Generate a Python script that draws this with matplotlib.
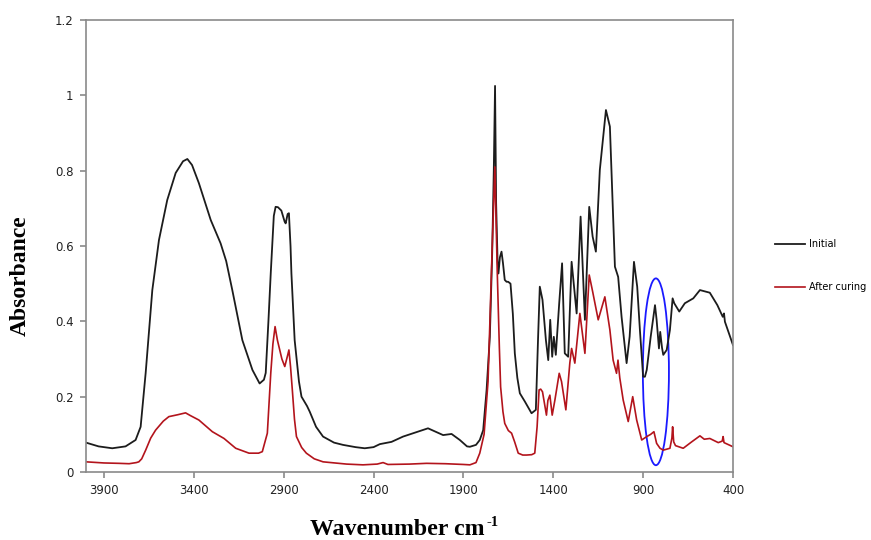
import numpy as np
import matplotlib
matplotlib.use("Agg")
import matplotlib.pyplot as plt
from matplotlib.patches import Ellipse
from matplotlib.ticker import FuncFormatter

# FTIR spectra, absorbance vs wavenumber (cm-1)
wn_initial = [4000, 3930, 3854, 3780, 3724, 3696, 3668, 3631, 3594, 3548, 3501, 3460,
              3436, 3410, 3372, 3306, 3251, 3220, 3186, 3130, 3074, 3034, 3010, 3000,
              2985, 2972, 2955, 2945, 2932, 2913, 2895, 2889, 2878, 2871, 2862, 2857,
              2839, 2815, 2801, 2770, 2755, 2720, 2681, 2620, 2570, 2500, 2449, 2400,
              2365, 2300, 2236, 2160, 2097, 2050, 2013, 1966, 1920, 1880, 1864, 1830,
              1809, 1790, 1771, 1753, 1740, 1731, 1724, 1718, 1710, 1705, 1697, 1688,
              1680, 1670, 1660, 1651, 1638, 1625, 1614, 1600, 1586, 1558, 1521, 1497,
              1485, 1475, 1460, 1441, 1428, 1417, 1406, 1397, 1386, 1367, 1351, 1336,
              1317, 1298, 1270, 1248, 1224, 1200, 1181, 1163, 1141, 1107, 1085, 1057,
              1039, 1020, 992, 975, 951, 933, 918, 900, 890, 880, 858, 834, 825, 812,
              805, 795, 788, 769, 751, 736, 727, 699, 668, 621, 584, 529, 487, 457,
              450, 445, 400]
abs_initial = [0.078, 0.068, 0.063, 0.068, 0.085, 0.12, 0.263, 0.483, 0.616, 0.722, 0.794, 0.825,
               0.831, 0.815, 0.767, 0.669, 0.607, 0.56, 0.483, 0.350, 0.271, 0.235, 0.245, 0.263,
               0.40, 0.528, 0.68, 0.704, 0.703, 0.694, 0.665, 0.660, 0.685, 0.687, 0.60, 0.527,
               0.350, 0.24, 0.200, 0.175, 0.160, 0.12, 0.094, 0.078, 0.072, 0.066, 0.063, 0.066,
               0.074, 0.080, 0.094, 0.106, 0.116, 0.106, 0.098, 0.101, 0.085, 0.068, 0.067, 0.072,
               0.085, 0.111, 0.218, 0.359, 0.58, 0.80, 1.025, 0.714, 0.56, 0.527, 0.57, 0.585,
               0.555, 0.51, 0.505, 0.505, 0.50, 0.42, 0.315, 0.25, 0.209, 0.187, 0.156, 0.165,
               0.35, 0.492, 0.457, 0.350, 0.297, 0.404, 0.306, 0.359, 0.311, 0.448, 0.554, 0.315,
               0.306, 0.558, 0.421, 0.678, 0.404, 0.704, 0.625, 0.585, 0.802, 0.961, 0.917, 0.545,
               0.518, 0.412, 0.289, 0.36, 0.558, 0.492, 0.377, 0.253, 0.253, 0.271, 0.359, 0.443,
               0.404, 0.328, 0.372, 0.33, 0.311, 0.324, 0.377, 0.461, 0.448, 0.426, 0.448, 0.461,
               0.483, 0.476, 0.443, 0.412, 0.421, 0.399, 0.337]

wn_cured = [4000, 3900, 3817, 3760, 3720, 3706, 3690, 3668, 3640, 3613, 3570, 3539,
            3490, 3446, 3420, 3372, 3297, 3232, 3167, 3093, 3040, 3019, 2991, 2972,
            2960, 2948, 2935, 2910, 2894, 2878, 2871, 2862, 2852, 2840, 2829, 2800,
            2774, 2730, 2681, 2550, 2459, 2380, 2347, 2320, 2200, 2105, 2000, 1900,
            1864, 1830, 1809, 1785, 1763, 1738, 1725, 1712, 1700, 1693, 1680, 1670,
            1650, 1632, 1615, 1595, 1570, 1549, 1520, 1503, 1490, 1479, 1470, 1460,
            1438, 1430, 1419, 1406, 1391, 1367, 1354, 1330, 1308, 1298, 1280, 1252,
            1224, 1200, 1181, 1150, 1113, 1085, 1067, 1048, 1040, 1030, 1011, 983,
            958, 936, 908, 880, 858, 840, 825, 806, 788, 751, 740, 736, 730, 720,
            677, 630, 584, 560, 529, 482, 460, 455, 450, 400]
abs_cured = [0.027, 0.024, 0.023, 0.022, 0.025, 0.027, 0.035, 0.058, 0.09, 0.111, 0.135, 0.147,
             0.152, 0.157, 0.150, 0.138, 0.107, 0.089, 0.063, 0.050, 0.050, 0.054, 0.103, 0.262,
             0.34, 0.386, 0.35, 0.30, 0.280, 0.31, 0.324, 0.28, 0.218, 0.14, 0.094, 0.065,
             0.050, 0.035, 0.027, 0.021, 0.019, 0.021, 0.025, 0.020, 0.021, 0.023, 0.022, 0.020,
             0.019, 0.025, 0.050, 0.10, 0.24, 0.625, 0.81, 0.536, 0.33, 0.226, 0.16, 0.129,
             0.11, 0.103, 0.08, 0.050, 0.045, 0.045, 0.046, 0.050, 0.12, 0.218, 0.22, 0.213,
             0.151, 0.19, 0.204, 0.151, 0.191, 0.262, 0.240, 0.165, 0.289, 0.328, 0.289, 0.421,
             0.315, 0.523, 0.479, 0.404, 0.465, 0.377, 0.297, 0.262, 0.297, 0.25, 0.191, 0.134,
             0.200, 0.138, 0.085, 0.094, 0.10, 0.107, 0.076, 0.063, 0.058, 0.063, 0.09, 0.12,
             0.08, 0.07, 0.063, 0.080, 0.096, 0.087, 0.089, 0.078, 0.082, 0.094, 0.078, 0.067]

x_ticks = [3900, 3400, 2900, 2400, 1900, 1400, 900, 400]
y_ticks = [0, 0.2, 0.4, 0.6, 0.8, 1.0, 1.2]

# highlighted region around 830 cm-1
ring_center = (829, 0.266)
ring_width = 145
ring_height = 0.496

fig = plt.figure(figsize=(8.71, 5.4), dpi=100)
ax = fig.add_axes([86 / 871, 68 / 540, 647 / 871, 452 / 540])

ax.plot(wn_initial, abs_initial, color='#1c1c1c', lw=1.3, label='Initial')
ax.plot(wn_cured, abs_cured, color='#b3141c', lw=1.2, label='After curing')

ax.add_patch(Ellipse(ring_center, ring_width, ring_height, fill=False,
                     edgecolor='#1a1aff', lw=1.3))

ax.set_xlim(4000, 400)
ax.set_ylim(0, 1.2)
ax.set_xticks(x_ticks)
ax.set_yticks(y_ticks)
ax.yaxis.set_major_formatter(FuncFormatter(lambda v, p: '%g' % v))

gray = '#8a8a8a'
for s in ax.spines.values():
    s.set_color(gray)
    s.set_linewidth(1.2)
ax.tick_params(axis='both', colors=gray, length=4, width=1.2, labelsize=8.5,
               labelcolor='#222222')
ax.tick_params(axis='x', pad=5)
ax.tick_params(axis='y', pad=5)

serif = dict(family='Liberation Serif', weight='bold')
fig.text(20 / 871, 1 - 275.5 / 540, 'Absorbance', rotation=90, ha='center', va='center',
         fontsize=17, **serif)
# axis title with a small raised "-1"
fig.text(310 / 871, 1 - 535 / 540, 'Wavenumber cm', ha='left', va='baseline',
         fontsize=17.2, **serif)
fig.text(486 / 871, 1 - 526 / 540, '-1', ha='left', va='baseline',
         fontsize=10.5, **serif)

fig.legend(loc='center left', bbox_to_anchor=(775 / 871, 1 - 265.5 / 540),
           frameon=False, fontsize=7, handlelength=3.1, handletextpad=0.4,
           labelspacing=3.4, borderpad=0, borderaxespad=0)

fig.savefig('out.png', dpi=100, facecolor='white')
